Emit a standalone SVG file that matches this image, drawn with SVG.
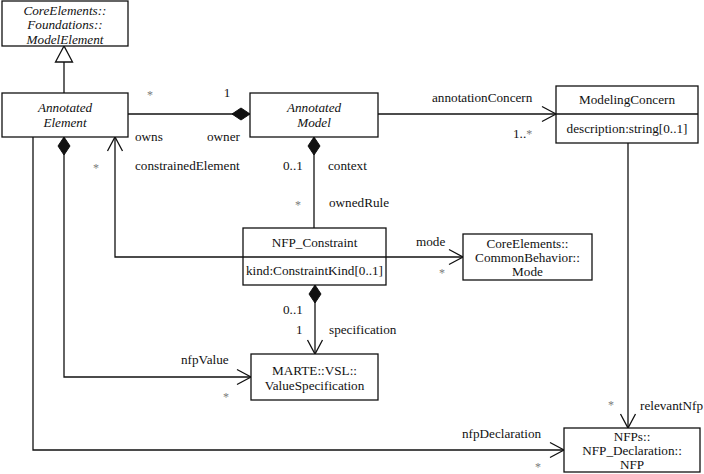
<svg xmlns="http://www.w3.org/2000/svg" width="704" height="474" viewBox="0 0 704 474" font-family="'Liberation Serif', 'DejaVu Serif', serif">
<style>
text{font-family:'Liberation Serif','DejaVu Serif',serif;font-size:13.2px;fill:#111}
.c{text-anchor:middle}
.i{font-style:italic}
.s{fill:#7a7a7a;font-size:12px}
.box{fill:#fff;stroke:#111;stroke-width:1.3}
.ln{fill:none;stroke:#111;stroke-width:1.3}
</style>
<defs>
<marker id="open" markerUnits="userSpaceOnUse" markerWidth="20" markerHeight="20" viewBox="-16 -10 20 20" refX="0" refY="0" orient="auto" overflow="visible">
<path d="M-14,-7.5 L0,0 L-14,7.5" fill="none" stroke="#111" stroke-width="1.3"/>
</marker>
<marker id="dia" markerUnits="userSpaceOnUse" markerWidth="20" markerHeight="14" viewBox="0 -7 20 14" refX="0" refY="0" orient="auto" overflow="visible">
<path d="M0,0 L9,-6 L18,0 L9,6 Z" fill="#111" stroke="#111" stroke-width="1"/>
</marker>
</defs>

<g id="connectors">
<path class="ln" d="M64,93 L64,62"/>
<polygon points="64,46 55.5,62 72.5,62" fill="#fff" stroke="#111" stroke-width="1.3"/>
<path class="ln" d="M250,114 L128,114" marker-start="url(#dia)"/>
<path class="ln" d="M378,114 L556,114" marker-end="url(#open)"/>
<path class="ln" d="M314,137 L314,228" marker-start="url(#dia)"/>
<path class="ln" d="M243,257 L115,257 L115,137" marker-end="url(#open)"/>
<path class="ln" d="M386,257 L463,257" marker-end="url(#open)"/>
<path class="ln" d="M315,285 L315,354" marker-start="url(#dia)" marker-end="url(#open)"/>
<path class="ln" d="M64,137 L64,377 L251,377" marker-start="url(#dia)" marker-end="url(#open)"/>
<path class="ln" d="M33,137 L33,450 L564,450" marker-end="url(#open)"/>
<path class="ln" d="M628,143 L628,428" marker-end="url(#open)"/>
</g>

<g id="labels">
<text class="s" x="150" y="99" text-anchor="middle">*</text>
<text x="227" y="97" text-anchor="middle">1</text>
<text x="135" y="141">owns</text>
<text x="207" y="141">owner</text>
<text class="s" x="96" y="172" text-anchor="middle">*</text>
<text x="135" y="170">constrainedElement</text>
<text x="283" y="170">0..1</text>
<text x="328" y="170">context</text>
<text class="s" x="298" y="209" text-anchor="middle">*</text>
<text x="329" y="207">ownedRule</text>
<text x="432" y="102">annotationConcern</text>
<text x="513" y="138">1..<tspan class="s">*</tspan></text>
<text x="416" y="246">mode</text>
<text class="s" x="442" y="277" text-anchor="middle">*</text>
<text x="283" y="314">0..1</text>
<text x="296" y="334">1</text>
<text x="329" y="334">specification</text>
<text x="181" y="364">nfpValue</text>
<text class="s" x="226" y="401" text-anchor="middle">*</text>
<text class="s" x="611" y="409" text-anchor="middle">*</text>
<text x="640" y="410">relevantNfp</text>
<text x="462" y="438">nfpDeclaration</text>
<text class="s" x="538" y="471" text-anchor="middle">*</text>
</g>

<g id="ModelElement">
<rect class="box" x="2" y="1" width="126" height="45"/>
<text class="c i" x="65" y="14.5">CoreElements::</text>
<text class="c i" x="65" y="29">Foundations::</text>
<text class="c i" x="65" y="43.5">ModelElement</text>
</g>

<g id="AnnotatedElement">
<rect class="box" x="2" y="93" width="126" height="44"/>
<text class="c i" x="65" y="112">Annotated</text>
<text class="c i" x="65" y="127">Element</text>
</g>

<g id="AnnotatedModel">
<rect class="box" x="250" y="93" width="128" height="44"/>
<text class="c i" x="314" y="112">Annotated</text>
<text class="c i" x="314" y="127">Model</text>
</g>

<g id="ModelingConcern">
<rect class="box" x="556" y="86" width="142" height="57"/>
<line class="ln" x1="556" y1="114" x2="698" y2="114"/>
<text class="c" x="627" y="104">ModelingConcern</text>
<text class="c" x="627" y="133">description:string[0..1]</text>
</g>

<g id="NFP_Constraint">
<rect class="box" x="243" y="228" width="143" height="57"/>
<line class="ln" x1="243" y1="257" x2="386" y2="257"/>
<text class="c" x="314.5" y="247">NFP_Constraint</text>
<text class="c" x="314.5" y="275">kind:ConstraintKind[0..1]</text>
</g>

<g id="Mode">
<rect class="box" x="463" y="234" width="129" height="46"/>
<text class="c" x="527.5" y="247.5">CoreElements::</text>
<text class="c" x="527.5" y="261.5">CommonBehavior::</text>
<text class="c" x="527.5" y="276">Mode</text>
</g>

<g id="ValueSpecification">
<rect class="box" x="251" y="354" width="127" height="46"/>
<text class="c" x="314.5" y="374.5">MARTE::VSL::</text>
<text class="c" x="314.5" y="390">ValueSpecification</text>
</g>

<g id="NFP">
<rect class="box" x="564" y="428" width="136" height="44"/>
<text class="c" x="632" y="441">NFPs::</text>
<text class="c" x="632" y="455">NFP_Declaration::</text>
<text class="c" x="632" y="469">NFP</text>
</g>
</svg>
